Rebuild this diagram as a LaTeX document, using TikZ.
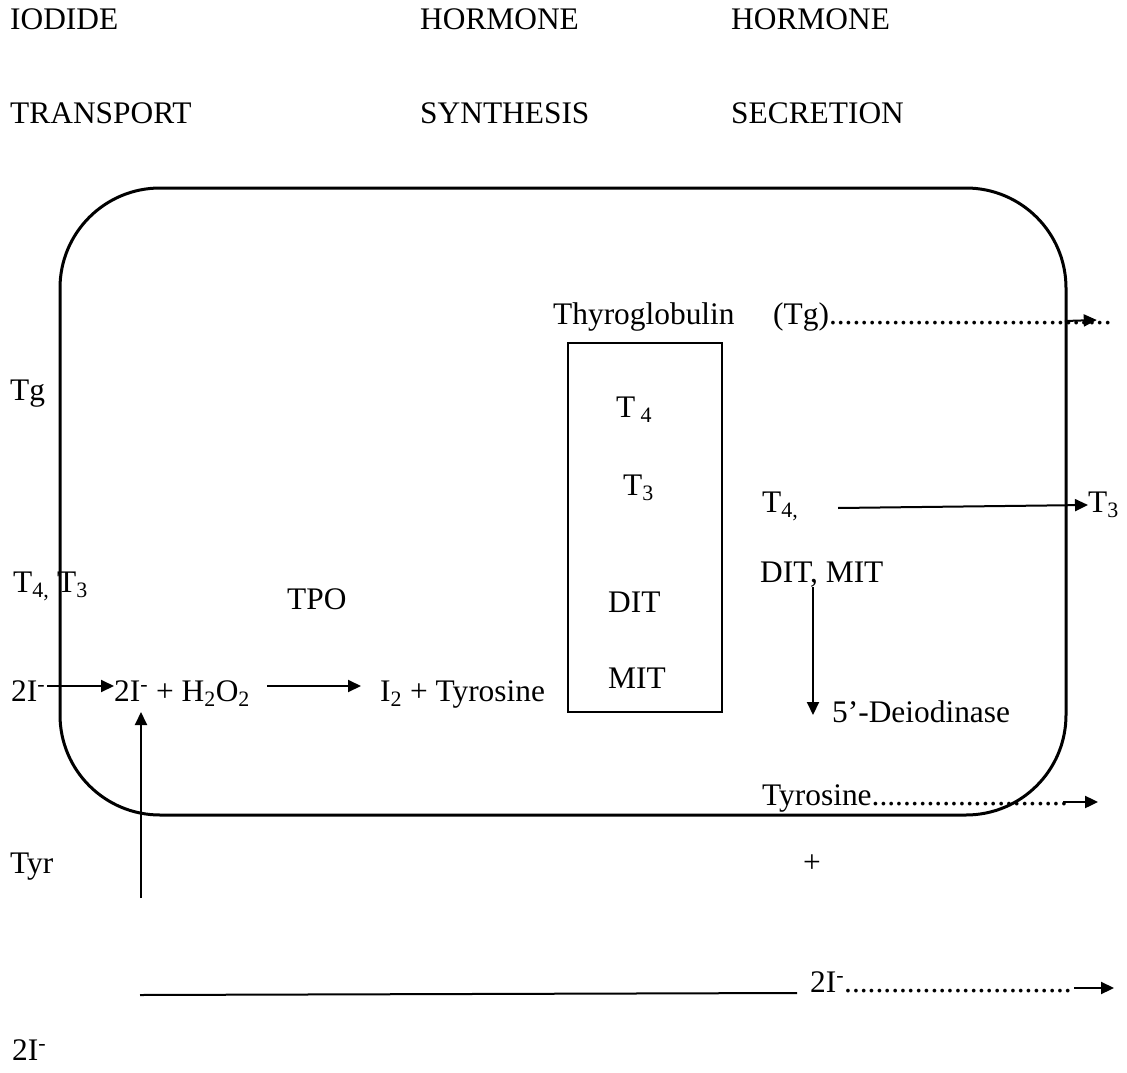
\documentclass[tikz,border=0pt]{standalone}
\usepackage{fontspec}
\setmainfont{Liberation Serif}
\usepackage{tikz}
\usetikzlibrary{arrows.meta}
\newcommand{\dotrun}[1]{\foreach \k in {1,...,#1}{.}}
\tikzset{
    lbl/.style={inner sep=0pt, anchor=base west},
    flow/.style={-{Triangle[length=13pt, width=12pt]}, line width=2pt},
}

\begin{document}
\begin{tikzpicture}[x=1pt, y=-1pt, font=\fontsize{31.4}{36}\selectfont]
        \useasboundingbox (0, 0) rectangle (1127, 1073);
        \foreach \x/\ta/\tb in {10/IODIDE/TRANSPORT, 420/HORMONE/SYNTHESIS, 731/HORMONE/SECRETION}
        {
            \node [lbl] (head\x) at (\x, 30) {\ta};
            \node [lbl] (sub\x) at (\x, 123) {\tb};
        }
        \draw [line width=3pt, rounded corners=100pt] (60, 188) rectangle (1066, 815);
        \draw [line width=2.2pt] (568, 343) rectangle (722, 712);
        \node [lbl] (thyro) at (553, 324) {Thyroglobulin};
        \node [lbl] (tgout) at (773, 324) {(Tg)\dotrun{36}};
        \node [lbl] (tg) at (10, 400) {Tg};
        \node [lbl] (tfourb) at (616, 417) {T\,\textsubscript{4}};
        \node [lbl] (tthreeb) at (623, 495) {T\textsubscript{3}};
        \node [lbl] (ditb) at (608, 612) {DIT};
        \node [lbl] (mitb) at (608, 688) {MIT};
        \node [lbl] (tfour) at (762, 512) {T\textsubscript{4,}};
        \node [lbl] (tthree) at (1088, 512) {T\textsubscript{3}};
        \node [lbl] (ditmit) at (760, 582) {DIT, MIT};
        \node [lbl] (deiod) at (832, 722) {5’-Deiodinase};
        \node [lbl] (tft) at (13, 592) {T\textsubscript{4,} T\textsubscript{3}};
        \node [lbl] (tpo) at (287, 609) {TPO};
        \node [lbl] (iodin) at (11, 701) {2I\textsuperscript{-}};
        \node [lbl] (react) at (114, 701) {2I\textsuperscript{-} + H\textsubscript{2}O\textsubscript{2}};
        \node [lbl] (iodtyr) at (380, 701) {I\textsubscript{2} + Tyrosine};
        \node [lbl] (tyrout) at (762, 805) {Tyrosine\dotrun{25}};
        \node [lbl] (tyr) at (10, 873) {Tyr};
        \node [lbl] (plus) at (803, 872) {+};
        \node [lbl] (iodout) at (810, 992) {2I\textsuperscript{-}\dotrun{29}};
        \node [lbl] (iodbot) at (12, 1060) {2I\textsuperscript{-}};
        \coordinate (tyrup) at (141, 898);
        \coordinate (tyrbase) at (140, 995);
        \draw [flow] ([xshift=-47pt, yshift=3pt]tgout.base east) -- ([xshift=-15pt, yshift=4pt]tgout.base east);
        \draw [flow] ([xshift=76pt, yshift=4pt]tfour.base west) -- ([yshift=7pt]tthree.base west);
        \draw [flow] ([xshift=53pt, yshift=-5pt]ditmit.base west) -- ([xshift=-19pt, yshift=7pt]deiod.base west);
        \draw [flow] ([xshift=2pt, yshift=15pt]iodin.base east) -- ([yshift=15pt]react.base west);
        \draw [flow] ([xshift=17pt, yshift=15pt]react.base east) -- ([xshift=-19pt, yshift=15pt]iodtyr.base west);
        \draw [flow, shorten >=11pt] (tyrup) -- (tyrup |- react.base);
        \draw [flow] ([xshift=-5pt, yshift=3pt]tyrout.base east) -- ([xshift=30pt, yshift=3pt]tyrout.base east);
        \draw [line width=2pt] (tyrbase) -- ([xshift=-13pt, yshift=-1pt]iodout.base west);
        \draw [flow] ([xshift=2pt, yshift=4pt]iodout.base east) -- ([xshift=42pt, yshift=4pt]iodout.base east);
\end{tikzpicture}
\end{document}
